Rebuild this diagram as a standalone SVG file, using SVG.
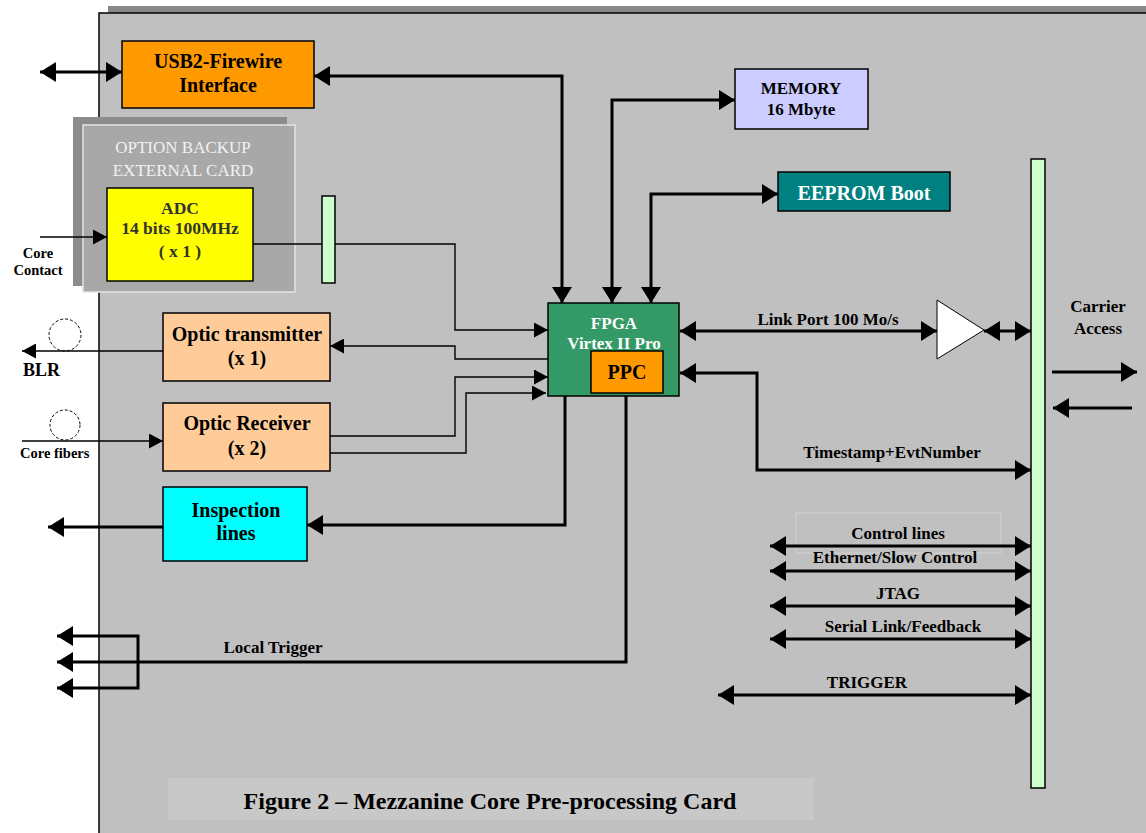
<svg xmlns="http://www.w3.org/2000/svg" width="1146" height="833" viewBox="0 0 1146 833">
<style>
text{font-family:"Liberation Serif","Times New Roman",serif;font-weight:bold;fill:#000;text-anchor:middle}
.t17{font-size:17px}
.t20{font-size:20px}
.box{stroke:#000;stroke-width:1.5}
.thick{fill:none;stroke:#000;stroke-width:3}
.thin{fill:none;stroke:#000;stroke-width:1.4}
.bar{fill:#ccffcc;stroke:#000;stroke-width:1.5}
</style>
<defs>
<marker id="ah" markerUnits="userSpaceOnUse" markerWidth="17" markerHeight="20" refX="16" refY="10" orient="auto-start-reverse" viewBox="0 0 17 20">
<path d="M0,0 L16,10 L0,20 z" fill="#000"/>
</marker>
<marker id="at" markerUnits="userSpaceOnUse" markerWidth="15" markerHeight="15" refX="14" refY="7.5" orient="auto-start-reverse" viewBox="0 0 15 15">
<path d="M0,0 L14,7.5 L0,15 z" fill="#000"/>
</marker>
</defs>
<rect x="0" y="0" width="1146" height="833" fill="#fff"/>
<g id="panel">
<rect x="108" y="6" width="1040" height="8" fill="#888"/>
<rect x="99" y="13" width="1060" height="830" fill="#c0c0c0" stroke="#000" stroke-width="1.5"/>
</g>
<g id="option-card">
<rect x="73" y="117" width="214" height="169" fill="#8c8c8c"/>
<rect x="83" y="125" width="212" height="167" fill="#a8a8a8" stroke="#e4e4e4" stroke-width="1.5"/>
<text x="183" y="153" style="font-weight:normal;fill:#f2f2f2;font-size:17px">OPTION BACKUP</text>
<text x="183" y="176" style="font-weight:normal;fill:#f2f2f2;font-size:17px">EXTERNAL CARD</text>
</g>
<rect id="caption-box" x="168" y="778" width="646" height="42" fill="#c8c8c8"/>
<rect x="796" y="513" width="205" height="40" fill="none" stroke="#d2d2d2" stroke-width="1"/>
<g id="connectors">
<path class="thick" d="M40,72 L122,72" marker-start="url(#ah)" marker-end="url(#ah)"/>
<path class="thick" d="M314,76 L562,76 L562,303" marker-start="url(#ah)" marker-end="url(#ah)"/>
<path class="thick" d="M612,303 L612,100 L735,100" marker-start="url(#ah)" marker-end="url(#ah)"/>
<path class="thick" d="M651,303 L651,194 L778,194" marker-start="url(#ah)" marker-end="url(#ah)"/>
<path class="thin" d="M40,237 L107,237" marker-end="url(#at)"/>
<path class="thin" d="M253,244 L455,244 L455,330 L548,330" marker-end="url(#at)"/>
<path class="thin" d="M548,359 L455,359 L455,346 L330,346" marker-end="url(#at)"/>
<path class="thin" d="M330,436 L455,436 L455,377 L548,377" marker-end="url(#at)"/>
<path class="thin" d="M330,453 L466,453 L466,393 L546,393" marker-end="url(#at)"/>
<path class="thin" d="M163,351 L22,351" marker-end="url(#at)"/>
<path class="thin" d="M22,441 L163,441" marker-end="url(#at)"/>
<circle cx="65" cy="335" r="16" fill="none" stroke="#000" stroke-width="1" stroke-dasharray="3,2"/>
<circle cx="65" cy="425" r="15" fill="none" stroke="#000" stroke-width="1" stroke-dasharray="3,2"/>
<path class="thick" d="M565,396 L565,525 L307,525" marker-end="url(#ah)"/>
<path class="thick" d="M163,527 L48,527" marker-end="url(#ah)"/>
<path class="thick" d="M626,396 L626,662 L57,662" marker-end="url(#ah)"/>
<path class="thick" d="M138,662 L138,636 L57,636" marker-end="url(#ah)"/>
<path class="thick" d="M138,662 L138,688 L57,688" marker-end="url(#ah)"/>
<path class="thick" d="M680,331 L937,331" marker-start="url(#ah)" marker-end="url(#ah)"/>
<path class="thick" d="M984,331 L1031,331" marker-start="url(#ah)" marker-end="url(#ah)"/>
<path class="thick" d="M680,373 L757,373 L757,470 L1031,470" marker-start="url(#ah)" marker-end="url(#ah)"/>
<path class="thick" d="M770,546 L1031,546" marker-start="url(#ah)" marker-end="url(#ah)"/>
<path class="thick" d="M770,571 L1031,571" marker-start="url(#ah)" marker-end="url(#ah)"/>
<path class="thick" d="M770,606 L1031,606" marker-start="url(#ah)" marker-end="url(#ah)"/>
<path class="thick" d="M770,639 L1031,639" marker-start="url(#ah)" marker-end="url(#ah)"/>
<path class="thick" d="M718,695 L1031,695" marker-start="url(#ah)" marker-end="url(#ah)"/>
<path class="thick" d="M1052,372 L1137,372" marker-end="url(#ah)"/>
<path class="thick" d="M1132,408 L1053,408" marker-end="url(#ah)"/>
</g>
<g id="labels">
<text class="t17" x="828" y="325">Link Port 100 Mo/s</text>
<text class="t17" x="892" y="458">Timestamp+EvtNumber</text>
<text class="t17" x="898" y="539">Control lines</text>
<text class="t17" x="895" y="563">Ethernet/Slow Control</text>
<text class="t17" x="898" y="599">JTAG</text>
<text class="t17" x="903" y="632">Serial Link/Feedback</text>
<text class="t17" x="867" y="688">TRIGGER</text>
<text class="t17" x="273" y="653">Local Trigger</text>
<text x="38" y="258" style="font-size:14.5px">Core</text>
<text x="38" y="275" style="font-size:14.5px">Contact</text>
<text x="23" y="376" style="font-size:18px;text-anchor:start">BLR</text>
<text x="20" y="458" style="font-size:14.5px;text-anchor:start">Core fibers</text>
<text class="t17" x="1098" y="312">Carrier</text>
<text class="t17" x="1098" y="334">Access</text>
</g>
<g id="usb2">
<rect class="box" x="122" y="41" width="192" height="67" fill="#ff9900"/>
<text class="t20" x="218" y="68">USB2-Firewire</text>
<text class="t20" x="218" y="92">Interface</text>
</g>
<g id="adc">
<rect class="box" x="107" y="188" width="146" height="93" fill="#ffff00"/>
<text x="180" y="214" style="font-size:17.5px;fill:#333">ADC</text>
<text x="180" y="234" style="font-size:17.5px;fill:#333">14 bits 100MHz</text>
<text x="180" y="257" style="font-size:17.5px;fill:#333">( x 1 )</text>
</g>
<rect id="adc-connector" class="bar" x="322" y="196" width="13" height="87"/>
<g id="optic-tx">
<rect class="box" x="163" y="313" width="167" height="68" fill="#ffcc99"/>
<text class="t20" x="247" y="341">Optic transmitter</text>
<text class="t20" x="247" y="365">(x 1)</text>
</g>
<g id="optic-rx">
<rect class="box" x="163" y="403" width="167" height="68" fill="#ffcc99"/>
<text class="t20" x="247" y="430">Optic Receiver</text>
<text class="t20" x="247" y="455">(x 2)</text>
</g>
<g id="inspection">
<rect class="box" x="163" y="487" width="144" height="74" fill="#00ffff"/>
<text class="t20" x="236" y="517">Inspection</text>
<text class="t20" x="236" y="540">lines</text>
</g>
<g id="fpga">
<rect class="box" x="548" y="303" width="131" height="93" fill="#339966"/>
<text class="t17" x="614" y="329" style="fill:#fff">FPGA</text>
<text class="t17" x="614" y="349" style="fill:#fff">Virtex II Pro</text>
</g>
<g id="ppc">
<rect class="box" x="591" y="351" width="72" height="42" fill="#ff9900"/>
<text class="t20" x="627" y="379">PPC</text>
</g>
<g id="memory">
<rect class="box" x="735" y="69" width="133" height="60" fill="#ccccff"/>
<text class="t17" x="801" y="94">MEMORY</text>
<text class="t17" x="801" y="115">16 Mbyte</text>
</g>
<g id="eeprom">
<rect class="box" x="778" y="172" width="172" height="39" fill="#008080"/>
<text class="t20" x="864" y="200" style="fill:#fff">EEPROM Boot</text>
</g>
<g id="buffer">
<polygon points="937,300 984,330 937,359" fill="#fff" stroke="#000" stroke-width="1"/>
</g>
<rect id="carrier-bus" class="bar" x="1031" y="159" width="14" height="629"/>
<text id="caption" x="490" y="809" style="font-size:24px">Figure 2 – Mezzanine Core Pre-processing Card</text>
</svg>
